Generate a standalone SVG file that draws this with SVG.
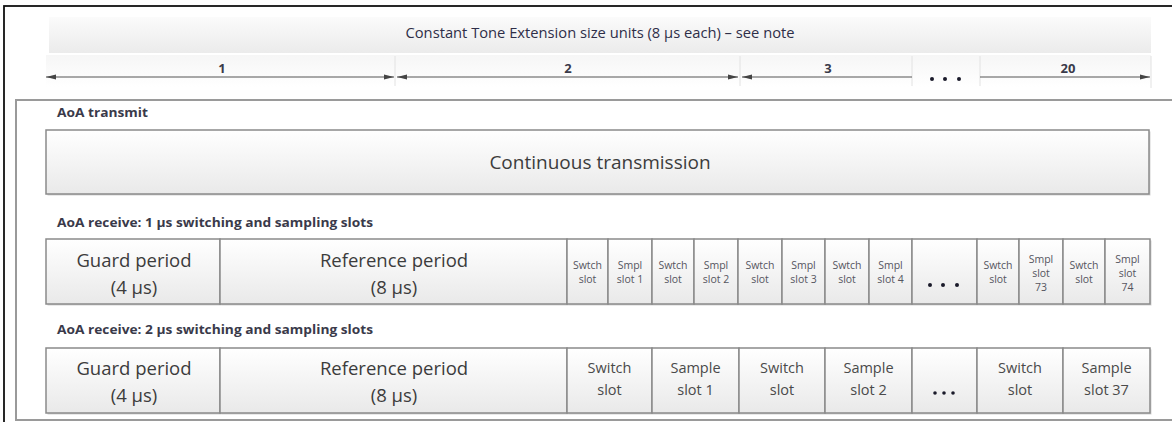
<svg xmlns="http://www.w3.org/2000/svg" width="1172" height="422" viewBox="0 0 1172 422">
  <defs>
    <linearGradient id="cellFill" x1="0" y1="0" x2="0" y2="1">
      <stop offset="0" stop-color="#ffffff"/>
      <stop offset="1" stop-color="#e9e9e9"/>
    </linearGradient>
    <linearGradient id="barFill" x1="0" y1="0" x2="0" y2="1">
      <stop offset="0" stop-color="#fbfbfb"/>
      <stop offset="1" stop-color="#ebebeb"/>
    </linearGradient>
    <linearGradient id="rulerFill" x1="0" y1="0" x2="0" y2="1">
      <stop offset="0" stop-color="#f6f6f6"/>
      <stop offset="1" stop-color="#ffffff"/>
    </linearGradient>
    <marker id="arrEnd" viewBox="0 0 10 6" refX="10" refY="3" markerWidth="11" markerHeight="6" markerUnits="userSpaceOnUse" orient="auto">
      <path d="M0,0.5 L10,3 L0,5.5 Z" fill="#444444"/>
    </marker>
    <marker id="arrStart" viewBox="0 0 10 6" refX="0" refY="3" markerWidth="11" markerHeight="6" markerUnits="userSpaceOnUse" orient="auto">
      <path d="M10,0.5 L0,3 L10,5.5 Z" fill="#444444"/>
    </marker>
  </defs>
  <style>
    .cell { fill: url(#cellFill); stroke: #8a8a8a; stroke-width: 1.5; }
    .shadow { fill: #d4d4d4; }
    .sep { stroke: #e2e2e2; stroke-width: 1; }
    .dim { stroke: #555555; stroke-width: 1; fill: none; }
    .dot { fill: #1a1a2a; }
    .lbl { font-family: "Open Sans", "DejaVu Sans", sans-serif; font-weight: bold; font-size: 12.5px; fill: #3a3a4a; }
    .big { font-family: "Open Sans", "DejaVu Sans", sans-serif; font-weight: 500; font-size: 18.5px; fill: #3c3c3c; text-anchor: middle; }
    .mid { font-family: "Open Sans", "DejaVu Sans", sans-serif; font-weight: 500; font-size: 14.5px; fill: #4a4a4a; text-anchor: middle; }
    .tiny { font-family: "Open Sans", "DejaVu Sans", sans-serif; font-weight: 500; font-size: 10.5px; fill: #55555f; text-anchor: middle; }
    .num { font-family: "Open Sans", "DejaVu Sans", sans-serif; font-weight: bold; font-size: 13px; fill: #3a3a4a; text-anchor: middle; }
    .hdr { font-family: "Open Sans", "DejaVu Sans", sans-serif; font-weight: 500; font-size: 14px; fill: #2e2e48; text-anchor: middle; }
  </style>

  <rect width="1172" height="422" fill="#ffffff"/>
  <!-- outer frame -->
  <rect x="4" y="6" width="1180" height="430" fill="none" stroke="#111111" stroke-width="1.8"/>

  <!-- CTE units header -->
  <g id="cte-header">
    <rect x="49" y="17" width="1102" height="36" fill="url(#barFill)"/>
    <text class="hdr" x="600" y="38" textLength="389" lengthAdjust="spacingAndGlyphs">Constant Tone Extension size units (8 µs each) – see note</text>
  </g>

  <!-- unit ruler -->
  <g id="unit-ruler">
    <rect x="46" y="55" width="1105" height="32" fill="url(#rulerFill)"/>
    <line class="sep" x1="395" y1="56" x2="395" y2="86"/>
    <line class="sep" x1="740" y1="56" x2="740" y2="86"/>
    <line class="sep" x1="912" y1="56" x2="912" y2="86"/>
    <line class="sep" x1="980" y1="56" x2="980" y2="86"/>
    <line class="sep" x1="1151" y1="56" x2="1151" y2="88"/>
    <text class="num" x="222" y="73">1</text>
    <text class="num" x="568" y="73">2</text>
    <text class="num" x="828" y="73">3</text>
    <text class="num" x="1068" y="73">20</text>
    <circle class="dot" cx="932" cy="79" r="2"/>
    <circle class="dot" cx="945" cy="79" r="2"/>
    <circle class="dot" cx="959" cy="79" r="2"/>
  </g>

  <g id="connectors">
    <line class="dim" x1="46" y1="77" x2="394" y2="77" marker-start="url(#arrStart)" marker-end="url(#arrEnd)"/>
    <line class="dim" x1="397" y1="77" x2="738" y2="77" marker-start="url(#arrStart)" marker-end="url(#arrEnd)"/>
    <line class="dim" x1="742" y1="77" x2="912" y2="77" marker-start="url(#arrStart)"/>
    <line class="dim" x1="980" y1="77" x2="1150" y2="77" marker-end="url(#arrEnd)"/>
  </g>

  <!-- panel holding the three timing rows -->
  <g id="timing-panel">
    <rect x="16" y="100" width="1170" height="320" fill="#ffffff" stroke="#9a9a9a" stroke-width="2"/>
    <text class="lbl" x="57" y="117" textLength="91" lengthAdjust="spacingAndGlyphs">AoA transmit</text>
    <text class="lbl" x="57" y="227" textLength="316" lengthAdjust="spacingAndGlyphs">AoA receive: 1 µs switching and sampling slots</text>
    <text class="lbl" x="57" y="334" textLength="316" lengthAdjust="spacingAndGlyphs">AoA receive: 2 µs switching and sampling slots</text>
  </g>

  <g id="continuous-transmission">
    <rect class="shadow" x="47.5" y="131.5" width="1103" height="64"/>
    <rect class="cell" x="46" y="130" width="1103" height="64"/>
    <text class="big" x="600" y="169" style="font-size:19px">Continuous transmission</text>
  </g>

  <!-- row: 1 µs slots -->
  <g id="row1-guard">
    <rect class="shadow" x="47.5" y="240.5" width="174" height="65"/>
    <rect class="cell" x="46" y="239" width="174" height="65"/>
    <text class="big" x="134" y="267">Guard period</text>
    <text class="big" x="134" y="294">(4 µs)</text>
  </g>
  <g id="row1-reference">
    <rect class="shadow" x="221.5" y="240.5" width="347" height="65"/>
    <rect class="cell" x="220" y="239" width="347" height="65"/>
    <text class="big" x="394" y="267">Reference period</text>
    <text class="big" x="394" y="294">(8 µs)</text>
  </g>
  <g id="row1-slots">
    <rect class="shadow" x="568.5" y="240.5" width="583" height="65"/>
    <rect class="cell" x="567" y="239" width="41" height="65"/>
    <rect class="cell" x="608" y="239" width="44" height="65"/>
    <rect class="cell" x="652" y="239" width="42" height="65"/>
    <rect class="cell" x="694" y="239" width="44" height="65"/>
    <rect class="cell" x="738" y="239" width="44" height="65"/>
    <rect class="cell" x="782" y="239" width="43" height="65"/>
    <rect class="cell" x="825" y="239" width="44" height="65"/>
    <rect class="cell" x="869" y="239" width="43" height="65"/>
    <rect class="cell" x="912" y="239" width="65" height="65"/>
    <rect class="cell" x="977" y="239" width="42" height="65"/>
    <rect class="cell" x="1019" y="239" width="44" height="65"/>
    <rect class="cell" x="1063" y="239" width="42" height="65"/>
    <rect class="cell" x="1105" y="239" width="45" height="65"/>

    <text class="tiny" x="587.5" y="269">Swtch</text><text class="tiny" x="587.5" y="283">slot</text>
    <text class="tiny" x="630" y="269">Smpl</text><text class="tiny" x="630" y="283">slot 1</text>
    <text class="tiny" x="673" y="269">Swtch</text><text class="tiny" x="673" y="283">slot</text>
    <text class="tiny" x="716" y="269">Smpl</text><text class="tiny" x="716" y="283">slot 2</text>
    <text class="tiny" x="760" y="269">Swtch</text><text class="tiny" x="760" y="283">slot</text>
    <text class="tiny" x="803.5" y="269">Smpl</text><text class="tiny" x="803.5" y="283">slot 3</text>
    <text class="tiny" x="847" y="269">Swtch</text><text class="tiny" x="847" y="283">slot</text>
    <text class="tiny" x="890.5" y="269">Smpl</text><text class="tiny" x="890.5" y="283">slot 4</text>
    <circle class="dot" cx="930" cy="285" r="2"/>
    <circle class="dot" cx="943" cy="285" r="2"/>
    <circle class="dot" cx="957" cy="285" r="2"/>
    <text class="tiny" x="998" y="269">Swtch</text><text class="tiny" x="998" y="283">slot</text>
    <text class="tiny" x="1041" y="263">Smpl</text><text class="tiny" x="1041" y="277">slot</text><text class="tiny" x="1041" y="291">73</text>
    <text class="tiny" x="1084" y="269">Swtch</text><text class="tiny" x="1084" y="283">slot</text>
    <text class="tiny" x="1127.5" y="263">Smpl</text><text class="tiny" x="1127.5" y="277">slot</text><text class="tiny" x="1127.5" y="291">74</text>
  </g>

  <!-- row: 2 µs slots -->
  <g id="row2-guard">
    <rect class="shadow" x="47.5" y="349.5" width="174" height="65"/>
    <rect class="cell" x="46" y="348" width="174" height="65"/>
    <text class="big" x="134" y="375">Guard period</text>
    <text class="big" x="134" y="402">(4 µs)</text>
  </g>
  <g id="row2-reference">
    <rect class="shadow" x="221.5" y="349.5" width="347" height="65"/>
    <rect class="cell" x="220" y="348" width="347" height="65"/>
    <text class="big" x="394" y="375">Reference period</text>
    <text class="big" x="394" y="402">(8 µs)</text>
  </g>
  <g id="row2-slots">
    <rect class="shadow" x="568.5" y="349.5" width="583" height="65"/>
    <rect class="cell" x="567" y="348" width="85" height="65"/>
    <rect class="cell" x="652" y="348" width="87" height="65"/>
    <rect class="cell" x="739" y="348" width="86" height="65"/>
    <rect class="cell" x="825" y="348" width="87" height="65"/>
    <rect class="cell" x="912" y="348" width="65" height="65"/>
    <rect class="cell" x="977" y="348" width="86" height="65"/>
    <rect class="cell" x="1063" y="348" width="87" height="65"/>

    <text class="mid" x="609.5" y="373">Switch</text><text class="mid" x="609.5" y="395">slot</text>
    <text class="mid" x="695.5" y="373">Sample</text><text class="mid" x="695.5" y="395">slot 1</text>
    <text class="mid" x="782" y="373">Switch</text><text class="mid" x="782" y="395">slot</text>
    <text class="mid" x="868.5" y="373">Sample</text><text class="mid" x="868.5" y="395">slot 2</text>
    <circle class="dot" cx="935" cy="393" r="1.8"/>
    <circle class="dot" cx="944" cy="393" r="1.8"/>
    <circle class="dot" cx="953" cy="393" r="1.8"/>
    <text class="mid" x="1020" y="373">Switch</text><text class="mid" x="1020" y="395">slot</text>
    <text class="mid" x="1106.5" y="373">Sample</text><text class="mid" x="1106.5" y="395">slot 37</text>
  </g>
</svg>
